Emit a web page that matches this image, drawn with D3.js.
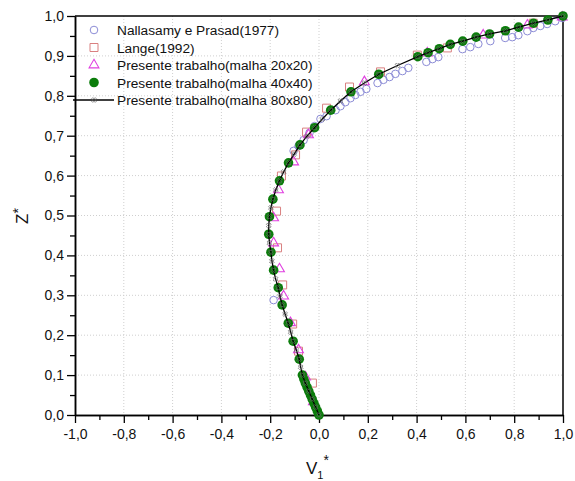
<!DOCTYPE html>
<html>
<head>
<meta charset="utf-8">
<script src="https://cdn.jsdelivr.net/npm/d3@7"></script>
<style>
  html, body { margin: 0; padding: 0; background: #fff; }
  svg { display: block; }
  text { font-family: "Liberation Sans", Arial, sans-serif; fill: #111; }
</style>
</head>
<body>
<svg id="chart" width="575" height="481"></svg>
<script>
// Velocity profiles V1* against height Z*
const xTicks = [-1.0, -0.8, -0.6, -0.4, -0.2, 0.0, 0.2, 0.4, 0.6, 0.8, 1.0];
const yTicks = [0.0, 0.1, 0.2, 0.3, 0.4, 0.5, 0.6, 0.7, 0.8, 0.9, 1.0];
const xMinor = [-0.9, -0.7, -0.5, -0.3, -0.1, 0.1, 0.3, 0.5, 0.7, 0.9];
const yMinor = [0.05, 0.15, 0.25, 0.35, 0.45, 0.55, 0.65, 0.75, 0.85, 0.95];

const seriesNames = [
  "Nallasamy e Prasad(1977)",
  "Lange(1992)",
  "Presente trabalho(malha 20x20)",
  "Presente trabalho(malha 40x40)",
  "Presente trabalho(malha 80x80)"
];

// [V1*, Z*]
const nallasamy = [
  [-0.186, 0.288], [-0.104, 0.662], [-0.084, 0.674], [-0.063, 0.689], [-0.039, 0.707],
  [-0.018, 0.724], [0.006, 0.742], [0.031, 0.749], [0.068, 0.764], [0.088, 0.774],
  [0.108, 0.784], [0.129, 0.794], [0.149, 0.802], [0.170, 0.810], [0.194, 0.817],
  [0.240, 0.832], [0.264, 0.840], [0.289, 0.847], [0.313, 0.855], [0.342, 0.862],
  [0.366, 0.870], [0.440, 0.885], [0.465, 0.892], [0.489, 0.897], [0.588, 0.917],
  [0.620, 0.922], [0.653, 0.930], [0.702, 0.937], [0.763, 0.945], [0.792, 0.947],
  [0.817, 0.952], [0.854, 0.962], [0.878, 0.970], [0.907, 0.975], [0.935, 0.980],
  [0.968, 0.987], [0.997, 0.995]
];

const lange = [
  [-0.027, 0.080], [-0.084, 0.160], [-0.108, 0.228], [-0.149, 0.326], [-0.170, 0.419],
  [-0.174, 0.511], [-0.154, 0.599], [-0.096, 0.652], [-0.051, 0.709], [0.031, 0.769],
  [0.125, 0.822], [0.252, 0.860], [0.403, 0.902], [0.526, 0.920], [0.878, 0.982]
];

const malha20 = [
  [-0.023, 0.033], [-0.055, 0.095], [-0.084, 0.163], [-0.117, 0.231], [-0.145, 0.298],
  [-0.162, 0.366], [-0.186, 0.431], [-0.186, 0.494], [-0.166, 0.564], [-0.104, 0.634],
  [-0.043, 0.702], [0.186, 0.835], [0.444, 0.907], [0.673, 0.952], [0.854, 0.977],
  [0.997, 0.997]
];

const malha40 = [
  [0.000, 0.000], [-0.007, 0.010], [-0.014, 0.020], [-0.021, 0.030], [-0.028, 0.040],
  [-0.035, 0.050], [-0.042, 0.060], [-0.049, 0.070], [-0.056, 0.080], [-0.062, 0.090],
  [-0.068, 0.100], [-0.081, 0.140], [-0.106, 0.185], [-0.126, 0.230], [-0.151, 0.276],
  [-0.167, 0.319], [-0.186, 0.363], [-0.197, 0.408], [-0.206, 0.453], [-0.203, 0.497],
  [-0.189, 0.541], [-0.162, 0.587], [-0.125, 0.632], [-0.078, 0.677], [-0.018, 0.720],
  [0.048, 0.764], [0.131, 0.810], [0.245, 0.854], [0.405, 0.898], [0.447, 0.908],
  [0.493, 0.918], [0.538, 0.929], [0.589, 0.937], [0.644, 0.947], [0.699, 0.955],
  [0.764, 0.963], [0.818, 0.972], [0.879, 0.982], [0.938, 0.990], [1.000, 1.000]
];

const malha80 = [
  [0.000, 0.000], [-0.014, 0.020], [-0.028, 0.040], [-0.042, 0.060], [-0.056, 0.080],
  [-0.068, 0.100], [-0.075, 0.120], [-0.081, 0.140], [-0.093, 0.163], [-0.106, 0.185],
  [-0.116, 0.208], [-0.126, 0.230], [-0.139, 0.253], [-0.151, 0.276], [-0.160, 0.298],
  [-0.167, 0.319], [-0.178, 0.341], [-0.186, 0.363], [-0.193, 0.386], [-0.197, 0.408],
  [-0.203, 0.431], [-0.206, 0.453], [-0.206, 0.475], [-0.203, 0.497], [-0.197, 0.519],
  [-0.189, 0.541], [-0.177, 0.564], [-0.162, 0.587], [-0.145, 0.609], [-0.125, 0.632],
  [-0.102, 0.654], [-0.078, 0.677], [-0.049, 0.699], [-0.018, 0.720], [0.014, 0.742],
  [0.048, 0.764], [0.088, 0.787], [0.131, 0.810], [0.186, 0.832], [0.245, 0.854],
  [0.322, 0.876], [0.405, 0.898], [0.447, 0.908], [0.493, 0.918], [0.538, 0.929],
  [0.589, 0.937], [0.644, 0.947], [0.699, 0.955], [0.764, 0.963], [0.818, 0.972],
  [0.879, 0.982], [0.938, 0.990], [1.000, 1.000]
];

const colors = {
  circle: "#8c8cd6",
  square: "#d98080",
  triangle: "#e040e0",
  dot: "#0b7d0b",
  line: "#000000",
  cross: "#666666"
};

const svg = d3.select("#chart");
const plot = { left: 75, right: 563, top: 16, bottom: 415 };

const x = d3.scaleLinear().domain([-1, 1]).range([plot.left, plot.right]);
const y = d3.scaleLinear().domain([0, 1]).range([plot.bottom, plot.top]);

const fmt = d => d.toFixed(1).replace(".", ",");

// dotted grid at major ticks
const grid = svg.append("g").attr("stroke", "#cfcfcf").attr("stroke-width", 1).attr("stroke-dasharray", "1,2");
grid.selectAll("line.gx").data(xTicks.slice(1, -1)).join("line")
  .attr("x1", d => x(d)).attr("x2", d => x(d))
  .attr("y1", plot.top).attr("y2", plot.bottom);
grid.selectAll("line.gy").data(yTicks.slice(1, -1)).join("line")
  .attr("x1", plot.left).attr("x2", plot.right)
  .attr("y1", d => y(d)).attr("y2", d => y(d));

// frame top and right
svg.append("line").attr("x1", plot.left).attr("x2", plot.right).attr("y1", plot.top).attr("y2", plot.top)
  .attr("stroke", "#000").attr("stroke-width", 1.5);
svg.append("line").attr("x1", plot.right).attr("x2", plot.right).attr("y1", plot.top).attr("y2", plot.bottom)
  .attr("stroke", "#000").attr("stroke-width", 1.5);

// axes
function styleAxis(g) {
  g.select(".domain").attr("stroke", "#000").attr("stroke-width", 1.5);
  g.selectAll(".tick line").attr("stroke", "#000").attr("stroke-width", 1.3);
  g.selectAll(".tick text").attr("font-size", 14).attr("fill", "#222")
    .style("font-family", "'Liberation Sans', Arial, sans-serif");
}

svg.append("g").attr("transform", `translate(0,${plot.bottom})`)
  .call(d3.axisBottom(x).tickValues(xMinor).tickSize(5).tickFormat("").tickSizeOuter(0))
  .call(styleAxis);
svg.append("g").attr("transform", `translate(${plot.left},0)`)
  .call(d3.axisLeft(y).tickValues(yMinor).tickSize(5).tickFormat("").tickSizeOuter(0))
  .call(styleAxis);
svg.append("g").attr("transform", `translate(0,${plot.bottom})`)
  .call(d3.axisBottom(x).tickValues(xTicks).tickSize(8).tickPadding(6).tickFormat(fmt).tickSizeOuter(0))
  .call(styleAxis);
svg.append("g").attr("transform", `translate(${plot.left},0)`)
  .call(d3.axisLeft(y).tickValues(yTicks).tickSize(8).tickPadding(3).tickFormat(fmt).tickSizeOuter(0))
  .call(styleAxis);

// axis titles
const zt = svg.append("text").attr("transform", "translate(28,216) rotate(-90)")
  .attr("text-anchor", "middle").attr("font-size", 17);
zt.append("tspan").text("Z");
zt.append("tspan").attr("dy", -5).attr("font-size", 14).text("*");

const vt = svg.append("text").attr("x", 306).attr("y", 474).attr("font-size", 17);
vt.append("tspan").text("V");
vt.append("tspan").attr("dy", 5).attr("font-size", 11).text("1");
vt.append("tspan").attr("dy", -14).attr("font-size", 14).text("*");

// marker shapes
const sym = (type, size) => d3.symbol().type(type).size(size)();
const pointsG = svg.append("g");

pointsG.append("g").selectAll("circle").data(nallasamy).join("circle")
  .attr("cx", d => x(d[0])).attr("cy", d => y(d[1])).attr("r", 3.8)
  .attr("fill", "none").attr("stroke", colors.circle).attr("stroke-width", 1);

pointsG.append("g").selectAll("path").data(lange).join("path")
  .attr("transform", d => `translate(${x(d[0])},${y(d[1])})`)
  .attr("d", sym(d3.symbolSquare, 64))
  .attr("fill", "none").attr("stroke", colors.square).attr("stroke-width", 1);

pointsG.append("g").selectAll("path").data(malha20).join("path")
  .attr("transform", d => `translate(${x(d[0])},${y(d[1])})`)
  .attr("d", sym(d3.symbolTriangle, 42))
  .attr("fill", "none").attr("stroke", colors.triangle).attr("stroke-width", 1.1);

pointsG.append("g").selectAll("circle").data(malha40).join("circle")
  .attr("cx", d => x(d[0])).attr("cy", d => y(d[1])).attr("r", 4.8)
  .attr("fill", colors.dot);

const lineGen = d3.line().x(d => x(d[0])).y(d => y(d[1])).curve(d3.curveLinear);
pointsG.append("path").datum(malha80).attr("d", lineGen)
  .attr("fill", "none").attr("stroke", colors.line).attr("stroke-width", 1.3);

pointsG.append("g").selectAll("path").data(malha80).join("path")
  .attr("transform", d => `translate(${x(d[0])},${y(d[1])}) rotate(45)`)
  .attr("d", sym(d3.symbolCross, 14))
  .attr("fill", "none").attr("stroke", colors.cross).attr("stroke-width", 0.7);

// legend
const legend = svg.append("g");
const rowY = [30, 47.5, 65, 82.5, 100];
const mx = 94, tx = 117;

legend.append("circle").attr("cx", mx).attr("cy", rowY[0]).attr("r", 3.8)
  .attr("fill", "none").attr("stroke", colors.circle);
legend.append("path").attr("transform", `translate(${mx},${rowY[1]})`).attr("d", sym(d3.symbolSquare, 64))
  .attr("fill", "none").attr("stroke", colors.square);
legend.append("path").attr("transform", `translate(${mx},${rowY[2]})`).attr("d", sym(d3.symbolTriangle, 42))
  .attr("fill", "none").attr("stroke", colors.triangle).attr("stroke-width", 1.1);
legend.append("circle").attr("cx", mx).attr("cy", rowY[3]).attr("r", 4.8).attr("fill", colors.dot);
legend.append("line").attr("x1", 73).attr("x2", 114).attr("y1", rowY[4]).attr("y2", rowY[4])
  .attr("stroke", colors.line).attr("stroke-width", 1.3);
legend.append("path").attr("transform", `translate(${mx},${rowY[4]}) rotate(45)`).attr("d", sym(d3.symbolCross, 14))
  .attr("fill", "none").attr("stroke", colors.cross).attr("stroke-width", 0.7);

legend.selectAll("text.lbl").data(seriesNames).join("text")
  .attr("x", tx).attr("y", (d, i) => rowY[i] + 5)
  .attr("font-size", 13.7).text(d => d);
</script>
</body>
</html>
